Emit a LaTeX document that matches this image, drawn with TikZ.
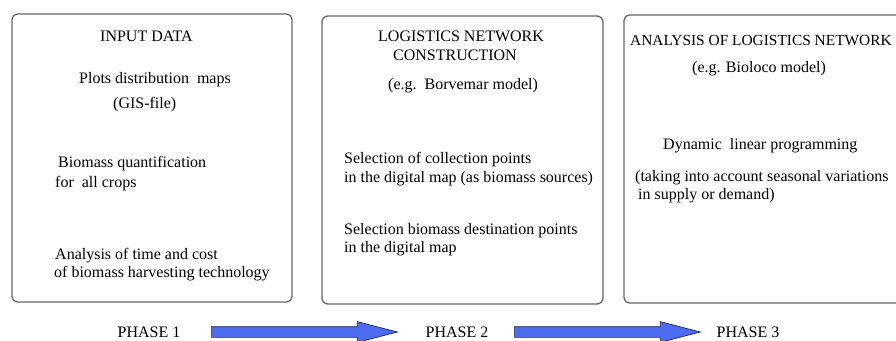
\documentclass[tikz,border=0pt]{standalone}
\usepackage{fontspec}
\setmainfont{Liberation Serif}
\newfontfamily\tnr{Liberation Serif}
\usetikzlibrary{shapes.arrows}
\definecolor{boxline}{RGB}{105,105,105}
\definecolor{arrowfill}{RGB}{77,108,240}
\definecolor{arrowline}{RGB}{30,40,90}
\begin{document}
\begin{tikzpicture}[x=1pt,y=-1pt,
  every node/.style={font=\tnr\fontsize{16}{19}\selectfont, inner sep=0pt},
  panel/.style={draw=boxline, line width=1.3pt, rounded corners=6pt},
  txt/.style={anchor=base west},
  phase/.style={anchor=base},
  bigarrow/.style={single arrow, draw=arrowline, line width=0.7pt, fill=arrowfill,
    minimum height=186pt, minimum width=20pt, single arrow head extend=5pt,
    single arrow tip angle=29, inner xsep=0pt, inner ysep=5pt, anchor=tail}]
\useasboundingbox (0,0) rectangle (896,340);
\clip (0,0) rectangle (896,340);
% panels
\node[panel, minimum width=280pt, minimum height=288pt] (box1) at (152,158) {};
\node[panel, minimum width=281pt, minimum height=288pt] (box2) at (462.5,160) {};
\node[panel, minimum width=286pt, minimum height=288pt] (box3) at (767,159) {};
% box 1
\node[txt] (t11) at (100,41) {INPUT DATA};
\node[txt] (t12) at (79,83) {Plots distribution\ \ maps};
\node[txt] (t13) at (113,108) {(GIS-file)};
\node[txt] (t14) at (58,167) {Biomass quantification};
\node[txt] (t15) at (55,187) {for\ \ all crops};
\node[txt] (t16) at (55,259) {Analysis of time and cost};
\node[txt] (t17) at (54,277) {of biomass harvesting technology};
% box 2
\node[txt] (t21) at (378,41) {LOGISTICS NETWORK};
\node[txt] (t22) at (393,60.5) {CONSTRUCTION};
\node[txt] (t23) at (388,89) {(e.g.\ \ Borvemar model)};
\node[txt] (t24) at (344,163) {Selection of collection points};
\node[txt] (t25) at (344,182) {in the digital map (as biomass sources)};
\node[txt] (t26) at (344,234) {Selection biomass destination points};
\node[txt] (t27) at (344,252) {in the digital map};
% box 3
\node[txt, font=\tnr\fontsize{15.4}{18}\selectfont] (t31) at (630,45) {ANALYSIS OF LOGISTICS NETWORK};
\node[txt] (t32) at (692,72) {(e.g. Bioloco model)};
\node[txt] (t33) at (663,149) {Dynamic\ \ linear programming};
\node[txt] (t34) at (635,181) {(taking into account seasonal variations};
\node[txt] (t35) at (638,199) {in supply or demand)};
% phases
\node[phase] (ph1) at (149,337) {PHASE 1};
\node[phase] (ph2) at (457,337) {PHASE 2};
\node[phase] (ph3) at (748,337) {PHASE 3};
\node[bigarrow] (a12) at (211,332) {};
\node[bigarrow] (a23) at (514,332) {};
\end{tikzpicture}
\end{document}
